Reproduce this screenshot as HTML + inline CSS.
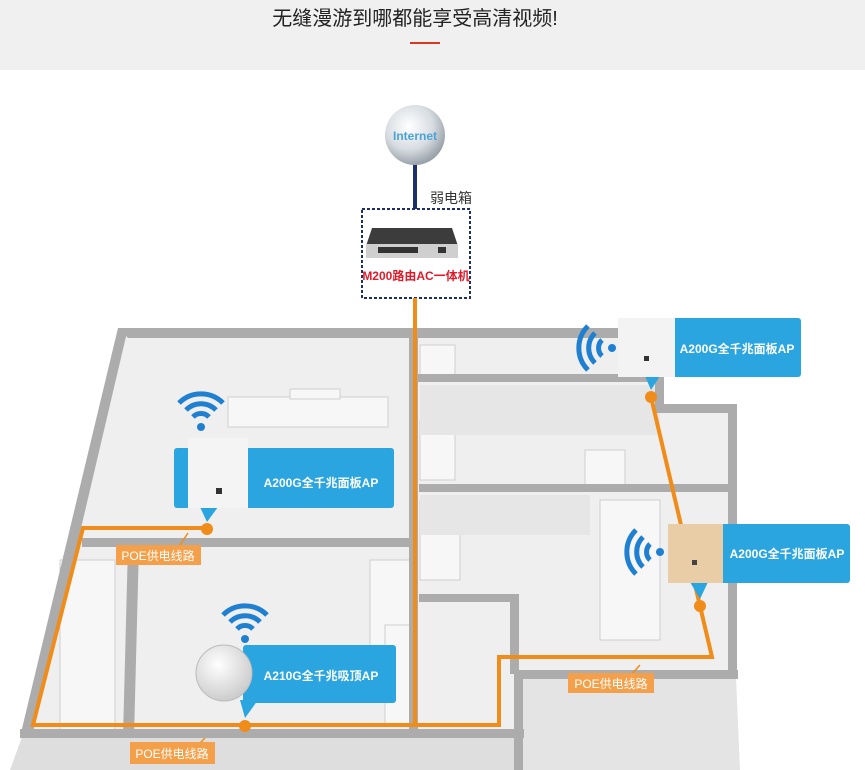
<!DOCTYPE html>
<html><head><meta charset="utf-8"><style>
html,body{margin:0;padding:0;background:#fff;}
body{width:865px;height:770px;overflow:hidden;position:relative;font-family:"Liberation Sans","Noto Sans CJK SC",sans-serif;}
</style></head><body>
<svg width="865" height="770" viewBox="0 0 865 770" xmlns="http://www.w3.org/2000/svg" style="position:absolute;left:0;top:0">
<defs>
<radialGradient id="g" cx="40%" cy="35%" r="65%"><stop offset="0" stop-color="#ffffff"/><stop offset="0.6" stop-color="#d8dde2"/><stop offset="1" stop-color="#9aa3ab"/></radialGradient>
<radialGradient id="c" cx="40%" cy="35%" r="70%"><stop offset="0" stop-color="#ffffff"/><stop offset="1" stop-color="#c9c9c9"/></radialGradient>
</defs>
<rect x="0" y="0" width="865" height="70" fill="#f0f0f0"/>
<text x="415" y="25" font-size="20" text-anchor="middle" fill="#222" font-family="Liberation Sans,Noto Sans CJK SC,sans-serif">无缝漫游到哪都能享受高清视频!</text>
<rect x="410" y="42" width="30" height="2" fill="#d9381e"/>

<polygon points="120,330 620,330 620,377 662,377 662,408 736,408 736,677 520,677 520,737 22,737" fill="#efefef"/>
<polygon points="22,737 520,737 520,770 10,770" fill="#dedede"/>
<polygon points="520,677 736,677 740,770 520,770" fill="#e4e4e4"/>
<g fill="#f7f7f7" stroke="#cfcfcf" stroke-width="1">
<rect x="228" y="397" width="160" height="30"/>
<rect x="290" y="389" width="50" height="10"/>
<rect x="420" y="345" width="35" height="35"/>
<rect x="420" y="420" width="35" height="60"/>
<rect x="585" y="450" width="40" height="40"/>
<rect x="600" y="500" width="60" height="140"/>
<rect x="370" y="560" width="40" height="120"/>
<rect x="420" y="500" width="40" height="80"/>
<rect x="60" y="560" width="55" height="170"/>
<rect x="385" y="625" width="30" height="100"/>
</g>
<g fill="#e6e6e6"><rect x="420" y="385" width="240" height="50"/><rect x="420" y="495" width="170" height="40"/></g>

<g fill="#acacac">
<polygon points="118,328 620,328 620,338 128,338"/>
<polygon points="118,328 128,328 32,737 20,737"/>
<rect x="20" y="729" width="504" height="9"/>
<rect x="514" y="670" width="9" height="100"/>
<rect x="514" y="670" width="224" height="9"/>
<rect x="728" y="406" width="9" height="272"/>
<rect x="655" y="404" width="82" height="9"/>
<rect x="655" y="375" width="9" height="36"/>
<rect x="415" y="374" width="245" height="8"/>
<rect x="409" y="330" width="9" height="408"/>
<rect x="419" y="484" width="316" height="8"/>
<rect x="82" y="538" width="330" height="9"/>
<polygon points="128,545 139,545 134,737 123,737"/>
<rect x="419" y="594" width="100" height="8"/>
<rect x="510" y="594" width="9" height="80"/>
</g>

<rect x="413" y="163" width="4" height="48" fill="#1c2f6b"/>
<circle cx="415" cy="135" r="30" fill="url(#g)"/>
<text x="415" y="140" font-size="12" font-weight="bold" fill="#4aa3d8" text-anchor="middle" font-family="Liberation Sans,sans-serif">Internet</text>
<text x="430" y="203" font-size="14" fill="#333">弱电箱</text>
<rect x="362" y="209" width="108" height="89" fill="#fff" stroke="#1c2f6b" stroke-width="2" stroke-dasharray="3,2"/>
<polygon points="372,228 452,228 458,246 366,246" fill="#3c3c3c"/>
<rect x="366" y="244" width="92" height="14" fill="#cfcfcf"/>
<g fill="#333"><rect x="378" y="247" width="40" height="6"/><rect x="438" y="247" width="8" height="6"/></g>
<text x="416" y="280" font-size="12" font-weight="bold" fill="#e01a2a" text-anchor="middle">M200路由AC一体机</text>

<g stroke="#f08c1a" stroke-width="4" fill="none">
<line x1="415" y1="298" x2="415" y2="727"/>
<polyline points="207,528 83,528 33,725 499,725 499,657 712,657 700,606 651,397"/>
<line x1="188" y1="533" x2="178" y2="548" stroke-width="1.5"/>
<line x1="205" y1="738" x2="195" y2="748" stroke-width="1.5"/>
<line x1="640" y1="665" x2="630" y2="676" stroke-width="1.5"/>
</g>
<g fill="#f08c1a"><circle cx="207" cy="529" r="6"/><circle cx="245" cy="726" r="6"/><circle cx="700" cy="606" r="6"/><circle cx="651" cy="397" r="6"/></g>

<g font-size="12" fill="#fff" text-anchor="middle">
<rect x="116" y="545" width="85" height="20" fill="#f4a04a"/><text x="158" y="560">POE供电线路</text>
<rect x="130" y="742" width="85" height="22" fill="#f4a04a"/><text x="172" y="758">POE供电线路</text>
<rect x="568" y="673" width="86" height="20" fill="#f4a04a"/><text x="611" y="688">POE供电线路</text>
</g>

<g fill="#2aa5e0">
<rect x="618" y="318" width="183" height="59" rx="3"/><polygon points="645,376 660,376 651,390"/>
<rect x="174" y="448" width="220" height="60" rx="3"/><polygon points="200,507 218,507 207,522"/>
<rect x="668" y="524" width="182" height="59" rx="3"/><polygon points="690,582 708,582 700,599"/>
<rect x="243" y="645" width="153" height="58" rx="3"/><polygon points="240,700 258,700 245,718"/>
</g>
<rect x="618" y="318" width="57" height="59" fill="#f3f3f3"/><rect x="644" y="356" width="5" height="5" fill="#333"/>
<rect x="188" y="438" width="60" height="70" fill="#f4f4f4"/><rect x="216" y="488" width="6" height="6" fill="#333"/>
<rect x="668" y="524" width="55" height="59" fill="#e9cda6"/><rect x="692" y="560" width="5" height="5" fill="#444"/>
<circle cx="224" cy="673" r="28" fill="url(#c)" stroke="#bbb"/>
<g font-size="12" font-weight="bold" fill="#fff" text-anchor="middle">
<text x="737" y="353">A200G全千兆面板AP</text>
<text x="321" y="487">A200G全千兆面板AP</text>
<text x="787" y="558">A200G全千兆面板AP</text>
<text x="321" y="680">A210G全千兆吸顶AP</text>
</g>

<g fill="none" stroke="#1f7fd0" stroke-width="5" stroke-linecap="butt">
<g transform="translate(201,425)"><path d="M-8,-8 A11,11 0 0 1 8,-8"/><path d="M-15,-15 A21,21 0 0 1 15,-15"/><path d="M-22,-22 A31,31 0 0 1 22,-22"/></g>
<g transform="translate(245,637)"><path d="M-8,-8 A11,11 0 0 1 8,-8"/><path d="M-15,-15 A21,21 0 0 1 15,-15"/><path d="M-22,-22 A31,31 0 0 1 22,-22"/></g>
<g transform="translate(610,348) rotate(-90)"><path d="M-8,-8 A11,11 0 0 1 8,-8"/><path d="M-15,-15 A21,21 0 0 1 15,-15"/><path d="M-22,-22 A31,31 0 0 1 22,-22"/></g>
<g transform="translate(658,552) rotate(-90)"><path d="M-8,-8 A11,11 0 0 1 8,-8"/><path d="M-15,-15 A21,21 0 0 1 15,-15"/><path d="M-22,-22 A31,31 0 0 1 22,-22"/></g>
</g>
<g fill="#1f7fd0"><circle cx="201" cy="427" r="4"/><circle cx="245" cy="639" r="4"/><circle cx="612" cy="348" r="4"/><circle cx="660" cy="552" r="4"/></g>
</svg>
</body></html>
